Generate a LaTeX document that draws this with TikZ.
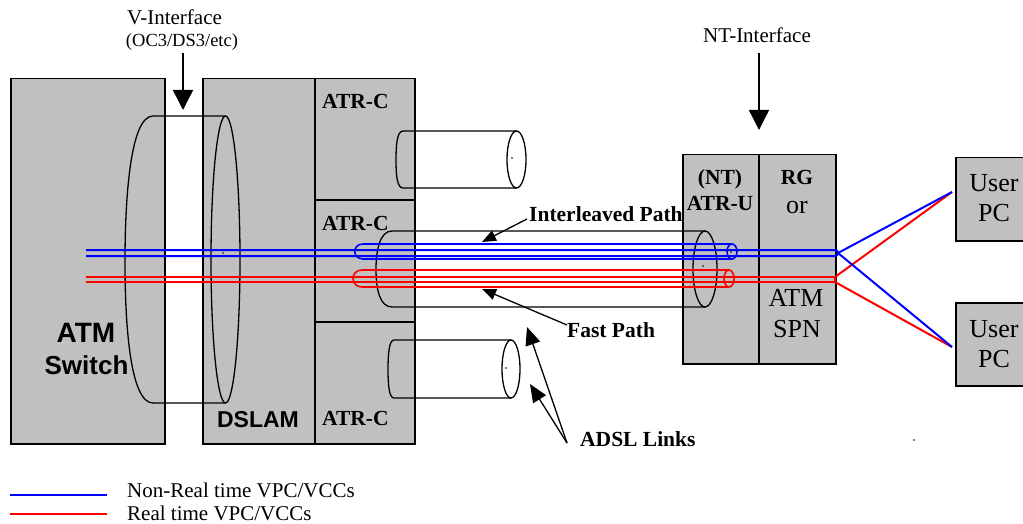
\documentclass[tikz,border=0pt]{standalone}
\usepackage{fontspec}
\setmainfont{Liberation Serif}
\newfontfamily\arialfont{Liberation Sans}
\usetikzlibrary{arrows.meta}
\definecolor{boxgray}{HTML}{C0C0C0}
\definecolor{nrtblue}{HTML}{0000FF}
\definecolor{rtred}{HTML}{FF0000}
\begin{document}
\begin{tikzpicture}[x=1pt,y=-1pt,
  box/.style={draw=black, line width=1.5pt, fill=boxgray, rectangle, inner sep=0pt, anchor=north west},
  sep/.style={draw=black, line width=1.5pt},
  cyl/.style={draw=black, line width=1.3pt},
  nrt/.style={draw=nrtblue, line width=2pt},
  rt/.style={draw=rtred, line width=2pt},
  lbl/.style={inner sep=0pt, anchor=base},
  lblw/.style={inner sep=0pt, anchor=base west},
  txt/.style={font=\fontsize{21}{24}\selectfont},
  btxt/.style={font=\fontsize{21.5}{24}\selectfont\bfseries},
  big/.style={font=\fontsize{26}{30}\selectfont},
  bigarrow/.style={draw=black, line width=1.4pt, -{Triangle[length=20pt,width=20pt]}},
  smallarrow/.style={draw=black, line width=1.3pt, -{Triangle[length=14pt,width=11pt]}},
  adslarrow/.style={draw=black, line width=1.3pt, -{Triangle[length=18pt,width=15pt]}},
  centredot/.style={fill=black, circle, inner sep=0pt, minimum size=1.6pt}]
\useasboundingbox (0,0) rectangle (1023,524);
\clip (0,0) rectangle (1023,524);

% ---------- boxes ----------
\node[box, minimum width=154pt, minimum height=365pt] (switch) at (10,78) {};
\node[box, minimum width=212pt, minimum height=365pt] (dslam) at (202,78) {};
\draw[sep] (315,78) -- (315,443);
\draw[sep] (315,200) -- (414,200);
\draw[sep] (315,322) -- (414,322);
\node[box, minimum width=153pt, minimum height=209pt] (nt) at (682,154) {};
\draw[sep] (759,154) -- (759,363);
\node[box, minimum width=85pt, minimum height=83pt] (pc1) at (955,157) {};
\node[box, minimum width=85pt, minimum height=83pt] (pc2) at (955,302) {};

% ---------- V-interface cylinder ----------
\draw[cyl] (225.5,116) -- (153,116) .. controls (130,116) and (125,200) .. (125,262)
  .. controls (125,330) and (131,403) .. (153,403) -- (225.5,403);
\draw[cyl] (225.5,259.5) ellipse [x radius=14.5, y radius=143.5];
\node[centredot] (vdot) at (223,253) {};

% ---------- ADSL link cylinders ----------
\draw[cyl] (516.5,131) -- (403,131) .. controls (397,131) and (396,145) .. (396,160)
  .. controls (396,175) and (397,188) .. (403,188) -- (516.5,188);
\draw[cyl] (516.5,159.5) ellipse [x radius=9.5, y radius=28.5];
\node[centredot] (tdot) at (512,158) {};

\draw[cyl] (705,231) -- (392,231) .. controls (380,231) and (376,250) .. (376,269)
  .. controls (376,290) and (380,307) .. (392,307) -- (705,307);
\draw[cyl] (705,269) ellipse [x radius=12, y radius=38];
\node[centredot] (mdot) at (703,266) {};

\draw[cyl] (511,340) -- (394,340) .. controls (389,340) and (388,355) .. (388,369)
  .. controls (388,384) and (389,398) .. (394,398) -- (511,398);
\draw[cyl] (511,369) ellipse [x radius=9, y radius=29];
\node[centredot] (bdot) at (506,368) {};

% ---------- VPC/VCC pipes ----------
\draw[nrt, line width=1.6pt] (732,244) -- (363,244) .. controls (352,244) and (352,259) .. (363,259) -- (732,259);
\draw[nrt, line width=1.6pt] (732,251.5) ellipse [x radius=5, y radius=7.5];
\node[centredot] (bpdot) at (731,252) {};
\draw[rt, line width=1.6pt] (729,270) -- (362,270) .. controls (350,270) and (350,287) .. (362,287) -- (729,287);
\draw[rt, line width=1.6pt] (729,278.5) ellipse [x radius=5, y radius=8.5];
\node[centredot] (rpdot) at (728,277) {};

\coordinate (bsplit) at (838,253);
\coordinate (rsplitt) at (835,277);
\coordinate (rsplitb) at (835,282);
\coordinate (pc1in) at (952,192);
\coordinate (pc2in) at (952,347);
\draw[nrt] (86,250) -- (835,250) .. controls (839,250) and (839,256) .. (835,256) -- (86,256);
\draw[rt] (86,277) -- (rsplitt) -- (rsplitb) -- (86,282);
\draw[rt] (rsplitt) -- (pc1in);
\draw[rt] (rsplitb) -- (pc2in);
\draw[nrt] (bsplit) -- (pc1in);
\draw[nrt] (bsplit) -- (pc2in);

% ---------- texts ----------
\node[lbl, txt] (vif) at (174.5,25) {V-Interface};
\node[lbl, font=\fontsize{18.5}{21}\selectfont] (vsub) at (182,47) {(OC3/DS3/etc)};
\node[lbl, txt] (ntif) at (757,43) {NT-Interface};

\node[lblw, btxt] (atrc1) at (322,109) {ATR-C};
\node[lblw, btxt] (atrc2) at (322,230) {ATR-C};
\node[lblw, btxt] (atrc3) at (322,425) {ATR-C};

\node[lbl, font=\fontsize{28}{32}\selectfont\arialfont\bfseries] (atm) at (86,342) {ATM};
\node[lbl, font=\fontsize{26}{30}\selectfont\arialfont\bfseries] (swt) at (86.5,374) {Switch};
\node[lbl, font=\fontsize{23}{27}\selectfont\arialfont\bfseries] (dsl) at (258,427) {DSLAM};

\node[lbl, btxt] (ntl) at (720,185) {(NT)};
\node[lbl, btxt] (atru) at (720,210) {ATR-U};
\node[lbl, btxt] (rg) at (797,185) {RG};
\node[lbl, big] (orl) at (797,213) {or};
\node[lbl, big] (atms) at (796,306) {ATM};
\node[lbl, big] (spn) at (797,337) {SPN};

\node[lbl, big] (u1) at (994,192) {User};
\node[lbl, big] (p1) at (994,222) {PC};
\node[lbl, big] (u2) at (994,337) {User};
\node[lbl, big] (p2) at (994,367) {PC};

\node[lblw, btxt] (ilp) at (529,222) {Interleaved Path};
\node[lblw, btxt] (fp) at (567,337) {Fast Path};
\node[lblw, btxt] (adsl) at (580,446) {ADSL Links};
\node[centredot] (stray) at (914,440) {};

% ---------- arrows ----------
\coordinate (vstart) at (183,53);
\coordinate (vtip) at (183,110);
\coordinate (ntstart) at (759,53);
\coordinate (nttip) at (759,130);
\coordinate (ilstart) at (527,219);
\coordinate (iltip) at (482,242);
\coordinate (fpstart) at (567,325);
\coordinate (fptip) at (482,289);
\coordinate (adstart) at (567,443);
\coordinate (adtip1) at (527,327);
\coordinate (adtip2) at (530,384);
\draw[bigarrow] (vstart) -- (vtip);
\draw[bigarrow] (ntstart) -- (nttip);
\draw[smallarrow] (ilstart) -- (iltip);
\draw[smallarrow] (fpstart) -- (fptip);
\draw[adslarrow] (adstart) -- (adtip1);
\draw[adslarrow] (adstart) -- (adtip2);

% ---------- legend ----------
\coordinate (lg1a) at (10,495);
\coordinate (lg1b) at (107,495);
\coordinate (lg2a) at (10,514);
\coordinate (lg2b) at (107,514);
\draw[nrt, line width=2.4pt] (lg1a) -- (lg1b);
\draw[rt, line width=2.4pt] (lg2a) -- (lg2b);
\node[lblw, txt] (lgt1) at (127,497) {Non-Real time VPC/VCCs};
\node[lblw, txt] (lgt2) at (127,520) {Real time VPC/VCCs};
\end{tikzpicture}
\end{document}
